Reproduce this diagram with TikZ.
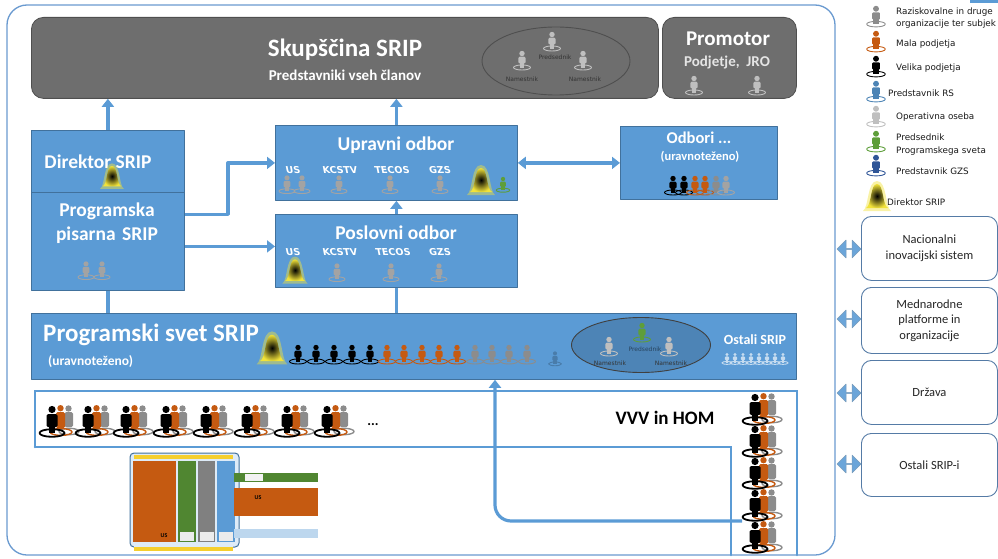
\documentclass[tikz,border=0pt]{standalone}
\usepackage{fontspec}
\setmainfont{Carlito}
\newfontfamily\legendfont{DejaVu Sans}
\usetikzlibrary{arrows.meta,shapes.arrows,shapes.geometric}

\definecolor{modra}{HTML}{5B9BD5}
\definecolor{modrarob}{HTML}{41719C}
\definecolor{siva}{HTML}{6E6E6E}
\definecolor{sivarob}{HTML}{4F4F4F}
\definecolor{okvirbarva}{HTML}{6A9AD0}
\definecolor{oranzna}{HTML}{C55A11}
\definecolor{zelena}{HTML}{5E9E3A}
\definecolor{temnomodra}{HTML}{2F5597}
\definecolor{srednjesiva}{HTML}{8C8C8C}
\definecolor{svetlosiva}{HTML}{BFBFBF}
\definecolor{rumena}{HTML}{F2E33A}

\tikzset{
  modraskatla/.style={draw=modrarob, fill=modra, line width=.8pt, inner sep=0pt, anchor=north west},
  sivaskatla/.style={draw=sivarob, fill=siva, line width=.8pt, rounded corners=12pt, inner sep=0pt, anchor=north west},
  desnaskatla/.style={draw=okvirbarva!80!black, fill=white, line width=.9pt, rounded corners=10pt, inner sep=0pt,
    anchor=north west, align=center, font=\fontsize{12.5}{15.5}\selectfont, text=black!85},
  naslov/.style={text=white, font=\bfseries\fontsize{19.5}{22}\selectfont, align=center, inner sep=0pt},
  podnaslov/.style={text=white, font=\bfseries\fontsize{13}{15}\selectfont, align=center, inner sep=0pt},
  oznaka/.style={text=white, font=\legendfont\bfseries\fontsize{9.5}{10}\selectfont, xslant=-.2, inner sep=0pt},
  drobno/.style={text=black!80, font=\legendfont\fontsize{6}{7}\selectfont, inner sep=0pt},
  legenda/.style={anchor=west, text=black!90, font=\legendfont\fontsize{8.8}{14}\selectfont, align=left, inner sep=0pt},
  puscica/.style={->, draw=modra, line width=3.2pt, line cap=butt},
  povezava/.style={draw=modra, line width=3.2pt, line cap=butt},
  trak/.style={draw=modra, line width=2.6pt, line join=miter},
  okvir/.style={draw=okvirbarva, line width=1.3pt},
  dvojnapuscica/.style={double arrow, fill=modra!90!white, draw=modrarob!70, line width=.5pt,
    minimum height=24pt, minimum width=18pt, double arrow head extend=3pt, inner sep=0pt},
  pics/oseba/.style={code={
    \draw[#1, line width=.9pt] (0,6.5) ellipse (8.5 and 2.5);
    \fill[#1] (0,-7.5) circle (2.7);
    \fill[#1, rounded corners=1.2pt] (-3.6,-4.3) rectangle (3.6,2.5);
    \fill[#1] (-2.3,2) rectangle (2.3,6.8);
  }},
  pics/skupina/.style={code={
    \draw[srednjesiva, line width=1.4pt] (17,10.5) ellipse (10 and 3.2);
    \fill[srednjesiva] (16.5,-12.5) circle (3.2);
    \fill[srednjesiva, rounded corners=1.5pt] (12.5,-8.8) rectangle (21,6);
    \draw[oranzna, line width=1.4pt] (9,11) ellipse (11 and 3.4);
    \fill[oranzna] (8.5,-12.8) circle (3.2);
    \fill[oranzna, rounded corners=1.5pt] (4,-9) rectangle (13,7);
    \draw[black, line width=1.8pt] (0,12) ellipse (12.5 and 3.8);
    \fill[black] (0,-11.5) circle (3.6);
    \fill[black, rounded corners=1.5pt] (-5.5,-7) rectangle (5.5,6);
    \fill[black] (-3,4) rectangle (3,12);
  }},
  pics/direktor/.style={code={
    \fill[rumena, opacity=.45] (-14,14) .. controls (-8,10) and (-10,-16) .. (0,-16) .. controls (10,-16) and (8,10) .. (14,14) -- cycle;
    \shade[inner color=black, outer color=rumena] (-11,11) .. controls (-5,8) and (-7,-13) .. (0,-13) .. controls (7,-13) and (5,8) .. (11,11) -- cycle;
  }},
}

\begin{document}
\begin{tikzpicture}[x=1pt, y=-1pt, line join=round, line cap=round, >={Triangle[length=8pt,width=12pt]}]
\useasboundingbox (0,0) rectangle (998,559);

% zunanji okvir
\draw[okvir, rounded corners=20pt] (7,5) rectangle (835,555);
\fill[modra] (970,0) rectangle (998,3);

% skupscina in promotor
\node[sivaskatla, minimum width=627pt, minimum height=81pt] (skupscina) at (31,17) {};
\node[sivaskatla, minimum width=134pt, minimum height=81pt] (promotor) at (662,17) {};
\node[naslov, font=\bfseries\fontsize{25}{28}\selectfont] (skupscinanaslov) at (345,50) {Skupščina SRIP};
\node[podnaslov, font=\bfseries\fontsize{15}{17}\selectfont] (clani) at (345,75) {Predstavniki vseh članov};
\node[draw=sivarob, line width=.9pt, ellipse, minimum width=148pt, minimum height=68pt] (predsedstvo) at (556,61) {};
\pic at (552,42) {oseba=svetlosiva};
\pic at (522,61) {oseba=svetlosiva};
\pic at (583,61) {oseba=svetlosiva};
\node[drobno] (predsednik) at (555,57) {Predsednik};
\node[drobno] (namestnika) at (522,79) {Namestnik};
\node[drobno] (namestnikb) at (585,79) {Namestnik};
\node[naslov, font=\bfseries\fontsize{21}{24}\selectfont] (promotornaslov) at (728,39) {Promotor};
\node[podnaslov, font=\bfseries\fontsize{15}{17}\selectfont, text=white!90!black] (podjetje) at (727,63) {Podjetje,\ \ JRO};
\pic at (694,86) {oseba=svetlosiva};
\pic at (757,86) {oseba=svetlosiva};

% direktor in programska pisarna
\node[modraskatla, minimum width=153pt, minimum height=62pt] (direktor) at (31,130) {};
\node[modraskatla, minimum width=153pt, minimum height=98pt] (pisarna) at (31,192) {};
\node[naslov] (direktornaslov) at (98,162) {Direktor SRIP};
\pic[scale=.85] at (112,177) {direktor};
\node[naslov, text width=140pt, font=\bfseries\fontsize{19.5}{24}\selectfont] (pisarnanaslov) at (107,223) {Programska\\pisarna SRIP};
\pic[scale=.95] at (86,271) {oseba=srednjesiva!80};
\pic[scale=.95] at (102,271) {oseba=srednjesiva!80};

% upravni in poslovni odbor
\node[modraskatla, minimum width=242pt, minimum height=75pt] (upravni) at (275,125) {};
\node[modraskatla, minimum width=242pt, minimum height=73pt] (poslovni) at (275,214) {};
\node[modraskatla, minimum width=157pt, minimum height=73pt] (odbori) at (620,126) {};
\node[naslov] (upravninaslov) at (396,145) {Upravni odbor};
\node[oznaka] (upravnius) at (293,170) {US};
\node[oznaka] (upravnikcstv) at (340,170) {KCSTV};
\node[oznaka] (upravnitecos) at (392,170) {TECOS};
\node[oznaka] (upravnigzs) at (440,170) {GZS};
\pic[scale=.95] at (287,185) {oseba=srednjesiva!80};
\pic[scale=.95] at (302,185) {oseba=srednjesiva!80};
\pic[scale=.95] at (339,185) {oseba=srednjesiva!80};
\pic[scale=.95] at (390,185) {oseba=srednjesiva!80};
\pic[scale=.95] at (440,185) {oseba=srednjesiva!80};
\pic at (481,181) {direktor};
\pic[scale=.8] at (503,185) {oseba=zelena};
\node[naslov] (poslovninaslov) at (396,233) {Poslovni odbor};
\node[oznaka] (poslovnius) at (293,252) {US};
\node[oznaka] (poslovnikcstv) at (340,252) {KCSTV};
\node[oznaka] (poslovnitecos) at (393,252) {TECOS};
\node[oznaka] (poslovnigzs) at (440,252) {GZS};
\pic[scale=.9] at (295,271) {direktor};
\pic[scale=.95] at (337,273) {oseba=srednjesiva!80};
\pic[scale=.95] at (391,273) {oseba=srednjesiva!80};
\pic[scale=.95] at (439,273) {oseba=srednjesiva!80};
\node[naslov, font=\bfseries\fontsize{16.5}{19}\selectfont] (odborinaslov) at (699,138) {Odbori ...};
\node[podnaslov, font=\bfseries\fontsize{12.5}{15}\selectfont] (odboriuravnotezeno) at (700,157) {(uravnoteženo)};
\pic at (673,186) {oseba=black};
\pic at (684,186) {oseba=black};
\pic at (695,186) {oseba=oranzna};
\pic at (705,186) {oseba=oranzna};
\pic at (716,186) {oseba=srednjesiva};
\pic at (726,186) {oseba=srednjesiva!80};

% programski svet
\node[modraskatla, minimum width=765pt, minimum height=66pt] (svet) at (31,313) {};
\node[naslov, anchor=west, font=\bfseries\fontsize{25}{28}\selectfont] (svetnaslov) at (43,335) {Programski svet SRIP};
\node[podnaslov, anchor=west, font=\bfseries\fontsize{13.5}{15}\selectfont] (sveturavnotezeno) at (48,362) {(uravnoteženo)};
\pic[scale=1.1] at (272,349) {direktor};
\foreach \x in {298,316,334,352,370} \pic at (\x,355) {oseba=black};
\foreach \x in {387,404,422,439,457} \pic at (\x,355) {oseba=oranzna};
\foreach \x in {475,492,509,527} \pic at (\x,355) {oseba=srednjesiva};
\pic[scale=.75] at (555,359) {oseba=modra!80!black};
\node[ellipse, draw=black!75, fill=modrarob!55!modra, line width=.9pt, minimum width=139pt, minimum height=55pt] (svetvodstvo) at (641,345) {};
\pic at (642,333) {oseba=zelena};
\pic at (609,347) {oseba=svetlosiva};
\pic at (669,347) {oseba=svetlosiva};
\node[drobno, text=modrarob!60!black] (svetpredsednik) at (645,349) {Predsednik};
\node[drobno] (svetnamestnika) at (610,363) {Namestnik};
\node[drobno] (svetnamestnikb) at (671,363) {Namestnik};
\node[podnaslov, font=\bfseries\fontsize{14}{16}\selectfont] (ostalisrip) at (755,340) {Ostali SRIP};
\foreach \x in {727,735,743,751,759,767,775,783} \pic[scale=.6] at (\x,359) {oseba=modra!35!white};

% povezave
\draw[puscica] (direktor.north) -- (direktor.north |- skupscina.south);
\draw[puscica] (upravni.north) -- (upravni.north |- skupscina.south);
\draw[puscica] (poslovni.north) -- (upravni.south);
\draw[puscica] ([yshift=27pt]pisarna.east) -| ([xshift=-47pt]upravni.west) -- (upravni.west);
\draw[puscica] ([yshift=-5pt]pisarna.east) -- ([yshift=-5pt]pisarna.east -| poslovni.west);
\draw[puscica, <->] (upravni.east) -- (odbori.west);
\draw[povezava] (pisarna.south) -- (pisarna.south |- svet.north);
\draw[povezava] (poslovni.south) -- (poslovni.south |- svet.north);

% VVV in HOM
\draw[trak] (35,447) -- (35,391) -- (797,391) -- (797,555);
\draw[trak] (35,447) -- (731,447) -- (731,555);
\foreach \x in {52,88,126,166,206,247,287,327} \pic at (\x,421) {skupina};
\node[font=\bfseries\fontsize{14}{16}\selectfont, inner sep=0pt] (vec) at (373,425) {...};
\node[font=\bfseries\fontsize{19}{22}\selectfont, inner sep=0pt] (vvv) at (665,418) {VVV in HOM};
\foreach \y in {409,441,473,505,537} \pic at (755,\y) {skupina};
\coordinate (vvvstolpec) at (742,521);
\coordinate (zavoj) at (495,521);
\draw[puscica, rounded corners=16pt] (vvvstolpec) -- (zavoj) -- (zavoj |- svet.south);

% slika spodaj
\filldraw[draw=modrarob, fill=modra!20, line width=1pt, rounded corners=4pt] (130,453) rectangle (239,547);
\fill[rumena!80!orange] (134,455) rectangle (233,459);
\fill[oranzna] (133,461) rectangle (176,542);
\fill[zelena!85!black] (178,461) rectangle (196,542);
\fill[gray] (198,461) rectangle (215,542);
\fill[modra] (217,461) rectangle (235,542);
\fill[white!80!modra] (134,542) rectangle (233,547);
\fill[rumena!80!orange] (134,547) rectangle (233,551);
\fill[white!85!gray] (180,532) rectangle (194,541);
\fill[white!85!gray] (200,532) rectangle (214,541);
\fill[white!85!gray] (219,532) rectangle (233,541);
\fill[zelena!85!black] (234,473) rectangle (318,482);
\fill[white!90!gray] (245,474) rectangle (263,481);
\fill[oranzna] (234,488) rectangle (318,516);
\fill[modra!40] (234,529) rectangle (318,538);
\node[font=\bfseries\fontsize{6}{6}\selectfont, inner sep=0pt] (uslogoa) at (164,536) {US};
\node[font=\bfseries\fontsize{6}{6}\selectfont, inner sep=0pt] (uslogob) at (258,498) {US};

% legenda
\node[legenda] (legrazisk) at (896,12) {Raziskovalne in druge};
\node[legenda] (legorg) at (896,24) {organizacije ter subjek};
\node[legenda] (legmala) at (896,44) {Mala podjetja};
\node[legenda] (legvelika) at (896,68) {Velika podjetja};
\node[legenda] (legrs) at (888,93) {Predstavnik RS};
\node[legenda] (legoperativna) at (896,117) {Operativna oseba};
\node[legenda] (legpredsednik) at (896,137) {Predsednik};
\node[legenda] (legsvet) at (896,151) {Programskega sveta};
\node[legenda] (leggzs) at (896,171) {Predstavnik GZS};
\node[legenda] (legdirektor) at (887,202) {Direktor SRIP};
\pic[scale=1.1] at (876,17) {oseba=srednjesiva};
\pic[scale=1.1] at (876,42) {oseba=oranzna};
\pic[scale=1.1] at (876,67) {oseba=black};
\pic[scale=1.1] at (876,92) {oseba=modra!85!black};
\pic[scale=1.1] at (876,117) {oseba=svetlosiva};
\pic[scale=1.1] at (876,142) {oseba=zelena};
\pic[scale=1.1] at (876,166) {oseba=temnomodra};
\pic at (877,197) {direktor};

% zunanji sistemi
\node[desnaskatla, minimum width=136pt, minimum height=64pt] (nis) at (861,216) {Nacionalni\\inovacijski sistem};
\node[desnaskatla, minimum width=136pt, minimum height=66pt] (mednarodne) at (861,287) {Mednarodne\\platforme in\\organizacije};
\node[desnaskatla, minimum width=136pt, minimum height=64pt] (drzava) at (861,360) {Država};
\node[desnaskatla, minimum width=136pt, minimum height=63pt] (ostali) at (861,433) {Ostali SRIP-i};
\node[dvojnapuscica] (pnis) at (849,249) {};
\node[dvojnapuscica] (pmednarodne) at (849,319) {};
\node[dvojnapuscica] (pdrzava) at (849,393) {};
\node[dvojnapuscica] (postali) at (849,464) {};
\end{tikzpicture}
\end{document}
